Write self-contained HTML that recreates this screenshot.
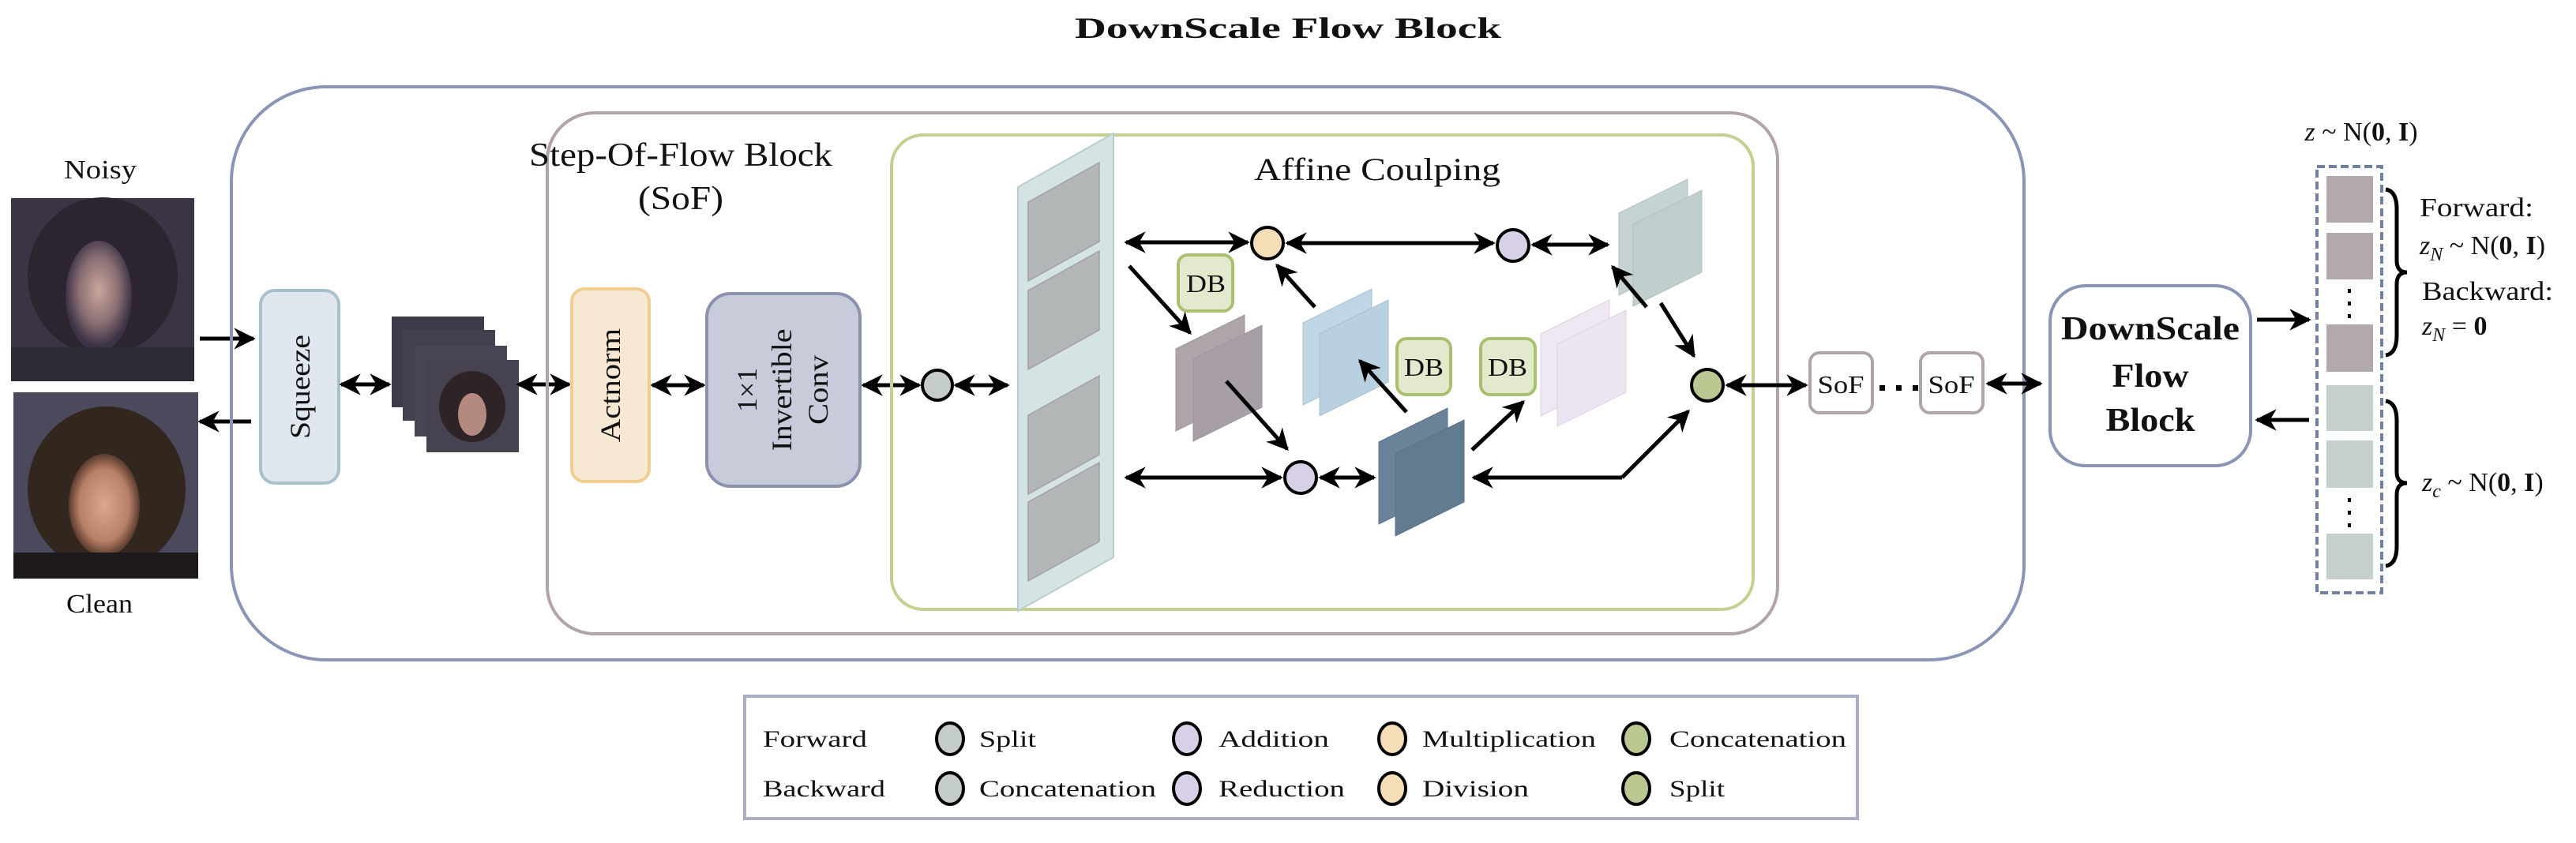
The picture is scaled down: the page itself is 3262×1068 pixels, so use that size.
<!DOCTYPE html>
<html><head><meta charset="utf-8"><style>
html,body{margin:0;padding:0;background:#fff;}
svg{display:block;}
text{font-family:"Liberation Serif","Times New Roman",serif;fill:#111;}
</style></head><body>
<svg width="3262" height="1068" viewBox="0 0 3262 1068" xmlns="http://www.w3.org/2000/svg">
<defs>
<marker id="a" viewBox="0 0 10 10" refX="9" refY="5" markerWidth="5.5" markerHeight="5.5" orient="auto-start-reverse">
<path d="M0,0 L10,5 L0,10 L3,5 z" fill="#000"/>
</marker>
<polygon id="pan" points="0,43 87,0 87,104 0,147"/>
<radialGradient id="face1" cx="0.5" cy="0.45" r="0.5"><stop offset="0" stop-color="#c9a79a"/><stop offset="0.6" stop-color="#8a6f73"/><stop offset="1" stop-color="#3d3346"/></radialGradient>
<radialGradient id="face2" cx="0.5" cy="0.5" r="0.5"><stop offset="0" stop-color="#d9a88e"/><stop offset="0.7" stop-color="#b88068"/><stop offset="1" stop-color="#5a3a2c"/></radialGradient>
</defs>

<text x="1631" y="48" font-size="37" font-weight="bold" text-anchor="middle" textLength="540" lengthAdjust="spacingAndGlyphs">DownScale Flow Block</text>

<!-- images -->
<text x="127" y="226" font-size="34" text-anchor="middle" textLength="92" lengthAdjust="spacingAndGlyphs">Noisy</text>
<rect x="14" y="251" width="232" height="232" fill="#3b3445"/>
<ellipse cx="130" cy="350" rx="95" ry="100" fill="#2c2530"/>
<ellipse cx="125" cy="375" rx="42" ry="70" fill="url(#face1)"/>
<rect x="14" y="440" width="232" height="43" fill="#2e2a35"/>
<text x="126" y="776" font-size="34" text-anchor="middle" textLength="84" lengthAdjust="spacingAndGlyphs">Clean</text>
<rect x="17" y="497" width="234" height="236" fill="#4a4a5c"/>
<ellipse cx="135" cy="620" rx="100" ry="105" fill="#33261f"/>
<ellipse cx="132" cy="640" rx="45" ry="65" fill="url(#face2)"/>
<rect x="17" y="700" width="234" height="33" fill="#1e1a1c"/>
<line x1="253" y1="429" x2="321" y2="429" stroke="#000" stroke-width="5" marker-end="url(#a)"/>
<line x1="318" y1="534" x2="253" y2="534" stroke="#000" stroke-width="5" marker-end="url(#a)"/>

<!-- outer box -->
<rect x="293" y="110" width="2270" height="726" rx="120" fill="none" stroke="#8a94b4" stroke-width="4"/>

<!-- squeeze -->
<rect x="330" y="368" width="99" height="244" rx="18" fill="#e0e7ee" stroke="#a8c0cc" stroke-width="4"/>
<text transform="translate(392,490) rotate(-90)" font-size="36" text-anchor="middle" textLength="132" lengthAdjust="spacingAndGlyphs">Squeeze</text>
<line x1="432" y1="487" x2="493" y2="487" stroke="#000" stroke-width="5" marker-start="url(#a)" marker-end="url(#a)"/>
<rect x="496" y="401" width="117" height="115" fill="#3e3a4a"/>
<rect x="510" y="418" width="117" height="115" fill="#45404f"/>
<rect x="525" y="438" width="117" height="115" fill="#4a4554"/>
<rect x="540" y="456" width="117" height="117" fill="#46424f"/>
<ellipse cx="598" cy="515" rx="42" ry="45" fill="#2e2428"/>
<ellipse cx="598" cy="525" rx="18" ry="27" fill="#b48a80"/>
<line x1="656" y1="487" x2="721" y2="487" stroke="#000" stroke-width="5" marker-start="url(#a)" marker-end="url(#a)"/>

<!-- SoF box -->
<rect x="693" y="143" width="1558" height="660" rx="60" fill="none" stroke="#b0a4a8" stroke-width="4"/>
<text x="862" y="210" font-size="42" text-anchor="middle" textLength="384" lengthAdjust="spacingAndGlyphs">Step-Of-Flow Block</text>
<text x="862" y="265" font-size="42" text-anchor="middle" textLength="108" lengthAdjust="spacingAndGlyphs">(SoF)</text>

<rect x="724" y="366" width="98" height="244" rx="16" fill="#f6e8d2" stroke="#f0cd90" stroke-width="4"/>
<text transform="translate(785,488) rotate(-90)" font-size="36" text-anchor="middle" textLength="144" lengthAdjust="spacingAndGlyphs">Actnorm</text>
<line x1="826" y1="488" x2="891" y2="488" stroke="#000" stroke-width="5" marker-start="url(#a)" marker-end="url(#a)"/>
<rect x="895" y="372" width="194" height="244" rx="30" fill="#c8cbda" stroke="#8a92ae" stroke-width="4"/>
<text transform="translate(958,494) rotate(-90)" font-size="36" text-anchor="middle">1×1</text>
<text transform="translate(1002,494) rotate(-90)" font-size="36" text-anchor="middle" textLength="155" lengthAdjust="spacingAndGlyphs">Invertible</text>
<text transform="translate(1048,494) rotate(-90)" font-size="36" text-anchor="middle" textLength="88" lengthAdjust="spacingAndGlyphs">Conv</text>
<line x1="1093" y1="488" x2="1164" y2="488" stroke="#000" stroke-width="5" marker-start="url(#a)" marker-end="url(#a)"/>

<!-- Affine box -->
<rect x="1129" y="171" width="1091" height="601" rx="40" fill="none" stroke="#c2d190" stroke-width="4"/>
<text x="1744" y="228" font-size="40" text-anchor="middle" textLength="312" lengthAdjust="spacingAndGlyphs">Affine Coulping</text>

<circle cx="1187" cy="488" r="19" fill="#c4cccb" stroke="#000" stroke-width="4"/>
<line x1="1210" y1="488" x2="1276" y2="488" stroke="#000" stroke-width="5" marker-start="url(#a)" marker-end="url(#a)"/>

<!-- big panel -->
<polygon points="1289,237 1410,169 1410,706 1289,774" fill="#d4e3e3" stroke="#b8cccc" stroke-width="2"/>
<g fill="#b2b6b7" stroke="#a6a0a6" stroke-width="1.5">
<polygon points="1302,256 1392,206 1392,306 1302,356"/>
<polygon points="1302,368 1392,318 1392,418 1302,468"/>
<polygon points="1302,526 1392,476 1392,576 1302,626"/>
<polygon points="1302,636 1392,586 1392,686 1302,736"/>
</g>

<!-- panels -->
<use href="#pan" x="1489" y="399" fill="#b0a4ab" stroke="#9d939a"/>
<use href="#pan" x="1511" y="412" fill="#a89ea5" stroke="#9d939a"/>
<use href="#pan" x="1650" y="366" fill="#c0d6e4" stroke="#a8c0d0"/>
<use href="#pan" x="1671" y="380" fill="#b8d0e0" stroke="#a8c0d0"/>
<use href="#pan" x="1951" y="380" fill="#efe8f3" stroke="#ddd0e4"/>
<use href="#pan" x="1972" y="393" fill="#ece4f0" stroke="#ddd0e4"/>
<use href="#pan" x="1746" y="517" fill="#6a8398" stroke="#5a7088"/>
<use href="#pan" x="1767" y="532" fill="#617b90" stroke="#5a7088"/>
<use href="#pan" x="2050" y="227" fill="#c6d3d2" stroke="#b0c0c0"/>
<use href="#pan" x="2068" y="241" fill="#c0cfce" stroke="#b0c0c0"/>

<!-- DB boxes -->
<g stroke="#a8c070" stroke-width="4" fill="#e3e9cc">
<rect x="1492" y="323" width="69" height="71" rx="12"/>
<rect x="1769" y="429" width="68" height="71" rx="12"/>
<rect x="1875" y="429" width="69" height="71" rx="12"/>
</g>
<text x="1527" y="370" font-size="32" text-anchor="middle" textLength="50" lengthAdjust="spacingAndGlyphs">DB</text>
<text x="1803" y="476" font-size="32" text-anchor="middle" textLength="50" lengthAdjust="spacingAndGlyphs">DB</text>
<text x="1909" y="476" font-size="32" text-anchor="middle" textLength="50" lengthAdjust="spacingAndGlyphs">DB</text>

<!-- circles -->
<circle cx="1605" cy="308" r="20" fill="#f5ddb8" stroke="#000" stroke-width="4"/>
<circle cx="1916" cy="311" r="20" fill="#d8d0e6" stroke="#000" stroke-width="4"/>
<circle cx="1647" cy="605" r="20" fill="#d8d0e6" stroke="#000" stroke-width="4"/>
<circle cx="2162" cy="488" r="20" fill="#b8c890" stroke="#000" stroke-width="4"/>

<g stroke="#000" stroke-width="5" fill="none">
<line x1="1426" y1="307" x2="1580" y2="307" marker-start="url(#a)" marker-end="url(#a)"/>
<line x1="1630" y1="308" x2="1891" y2="308" marker-start="url(#a)" marker-end="url(#a)"/>
<line x1="1941" y1="310" x2="2036" y2="310" marker-start="url(#a)" marker-end="url(#a)"/>
<line x1="1426" y1="605" x2="1622" y2="605" marker-start="url(#a)" marker-end="url(#a)"/>
<line x1="1672" y1="605" x2="1740" y2="605" marker-start="url(#a)" marker-end="url(#a)"/>
<polyline points="2054,605 1866,605" marker-end="url(#a)"/>
<polyline points="2054,605 2138,521" marker-end="url(#a)"/>
<line x1="1430" y1="337" x2="1507" y2="422" marker-end="url(#a)"/>
<line x1="1665" y1="389" x2="1617" y2="336" marker-end="url(#a)"/>
<line x1="1553" y1="483" x2="1630" y2="569" marker-end="url(#a)"/>
<line x1="1781" y1="522" x2="1722" y2="457" marker-end="url(#a)"/>
<line x1="1864" y1="570" x2="1929" y2="509" marker-end="url(#a)"/>
<line x1="2085" y1="389" x2="2042" y2="338" marker-end="url(#a)"/>
<line x1="2103" y1="384" x2="2145" y2="451" marker-end="url(#a)"/>
<line x1="2187" y1="488" x2="2287" y2="488" marker-start="url(#a)" marker-end="url(#a)"/>
<line x1="2517" y1="486" x2="2584" y2="486" marker-start="url(#a)" marker-end="url(#a)"/>
</g>

<!-- SoF small -->
<rect x="2292" y="447" width="79" height="76" rx="12" fill="#fff" stroke="#b0a4a8" stroke-width="4"/>
<rect x="2432" y="447" width="79" height="76" rx="12" fill="#fff" stroke="#b0a4a8" stroke-width="4"/>
<text x="2331" y="498" font-size="32" text-anchor="middle" textLength="59" lengthAdjust="spacingAndGlyphs">SoF</text>
<text x="2471" y="498" font-size="32" text-anchor="middle" textLength="59" lengthAdjust="spacingAndGlyphs">SoF</text>
<g fill="#000"><rect x="2380" y="488" width="7" height="7"/><rect x="2401" y="488" width="7" height="7"/><rect x="2422" y="488" width="7" height="7"/></g>

<!-- DownScale Flow Block -->
<rect x="2596" y="362" width="254" height="228" rx="45" fill="#fff" stroke="#8a94b4" stroke-width="4"/>
<text x="2723" y="430" font-size="42" font-weight="bold" text-anchor="middle" textLength="226" lengthAdjust="spacingAndGlyphs">DownScale</text>
<text x="2723" y="490" font-size="42" font-weight="bold" text-anchor="middle" textLength="97" lengthAdjust="spacingAndGlyphs">Flow</text>
<text x="2723" y="546" font-size="42" font-weight="bold" text-anchor="middle" textLength="113" lengthAdjust="spacingAndGlyphs">Block</text>
<line x1="2858" y1="405" x2="2924" y2="405" stroke="#000" stroke-width="5" marker-end="url(#a)"/>
<line x1="2924" y1="532" x2="2858" y2="532" stroke="#000" stroke-width="5" marker-end="url(#a)"/>

<!-- latent column -->
<text x="2990" y="178" font-size="34" text-anchor="middle"><tspan font-style="italic">z</tspan> ~ N(<tspan font-weight="bold">0</tspan>, <tspan font-weight="bold">I</tspan>)</text>
<rect x="2934" y="211" width="82" height="540" fill="none" stroke="#7080a0" stroke-width="4" stroke-dasharray="10,5"/>
<g fill="#b2a8ae">
<rect x="2946" y="223" width="59" height="59"/><rect x="2946" y="295" width="59" height="59"/><rect x="2946" y="411" width="59" height="60"/>
</g>
<g fill="#c4cfce">
<rect x="2946" y="488" width="59" height="58"/><rect x="2946" y="558" width="59" height="60"/><rect x="2946" y="676" width="59" height="58"/>
</g>
<g fill="#000">
<rect x="2973" y="366" width="4" height="5"/><rect x="2973" y="382" width="4" height="5"/><rect x="2973" y="398" width="4" height="5"/>
<rect x="2973" y="631" width="4" height="5"/><rect x="2973" y="647" width="4" height="5"/><rect x="2973" y="663" width="4" height="5"/>
</g>
<g stroke="#000" stroke-width="5" fill="none">
<path d="M3021,240 Q3035,242 3035,265 L3035,330 Q3035,345 3048,345 Q3035,345 3035,360 L3035,425 Q3035,448 3021,450"/>
<path d="M3021,508 Q3035,510 3035,533 L3035,598 Q3035,612 3048,612 Q3035,612 3035,627 L3035,692 Q3035,715 3021,717"/>
</g>
<text x="3064" y="274" font-size="34" textLength="144" lengthAdjust="spacingAndGlyphs">Forward:</text>
<text x="3064" y="322" font-size="34"><tspan font-style="italic">z</tspan><tspan font-style="italic" font-size="24" dy="8">N</tspan><tspan dy="-8"> ~ N(</tspan><tspan font-weight="bold">0</tspan>, <tspan font-weight="bold">I</tspan>)</text>
<text x="3067" y="380" font-size="34" textLength="166" lengthAdjust="spacingAndGlyphs">Backward:</text>
<text x="3067" y="424" font-size="34"><tspan font-style="italic">z</tspan><tspan font-style="italic" font-size="24" dy="8">N</tspan><tspan dy="-8"> = </tspan><tspan font-weight="bold">0</tspan></text>
<text x="3067" y="622" font-size="34"><tspan font-style="italic">z</tspan><tspan font-style="italic" font-size="24" dy="8">c</tspan><tspan dy="-8"> ~ N(</tspan><tspan font-weight="bold">0</tspan>, <tspan font-weight="bold">I</tspan>)</text>

<!-- legend -->
<rect x="943" y="882" width="1409" height="155" fill="#fff" stroke="#a8aec4" stroke-width="4"/>
<g font-size="30">
<text x="966" y="946" textLength="132" lengthAdjust="spacingAndGlyphs">Forward</text>
<text x="966" y="1009" textLength="155" lengthAdjust="spacingAndGlyphs">Backward</text>
<text x="1240" y="946" textLength="72" lengthAdjust="spacingAndGlyphs">Split</text>
<text x="1240" y="1009" textLength="224" lengthAdjust="spacingAndGlyphs">Concatenation</text>
<text x="1543" y="946" textLength="140" lengthAdjust="spacingAndGlyphs">Addition</text>
<text x="1543" y="1009" textLength="160" lengthAdjust="spacingAndGlyphs">Reduction</text>
<text x="1801" y="946" textLength="220" lengthAdjust="spacingAndGlyphs">Multiplication</text>
<text x="1801" y="1009" textLength="135" lengthAdjust="spacingAndGlyphs">Division</text>
<text x="2114" y="946" textLength="224" lengthAdjust="spacingAndGlyphs">Concatenation</text>
<text x="2114" y="1009" textLength="70" lengthAdjust="spacingAndGlyphs">Split</text>
</g>
<g stroke="#000" stroke-width="4">
<ellipse cx="1203" cy="936" rx="17" ry="20" fill="#c4cccb"/>
<ellipse cx="1203" cy="999" rx="17" ry="20" fill="#c4cccb"/>
<ellipse cx="1503" cy="936" rx="17" ry="20" fill="#d8d0e6"/>
<ellipse cx="1503" cy="999" rx="17" ry="20" fill="#d8d0e6"/>
<ellipse cx="1763" cy="936" rx="17" ry="20" fill="#f5ddb8"/>
<ellipse cx="1763" cy="999" rx="17" ry="20" fill="#f5ddb8"/>
<ellipse cx="2072" cy="936" rx="17" ry="20" fill="#b8c890"/>
<ellipse cx="2072" cy="999" rx="17" ry="20" fill="#b8c890"/>
</g>
</svg>
</body></html>
